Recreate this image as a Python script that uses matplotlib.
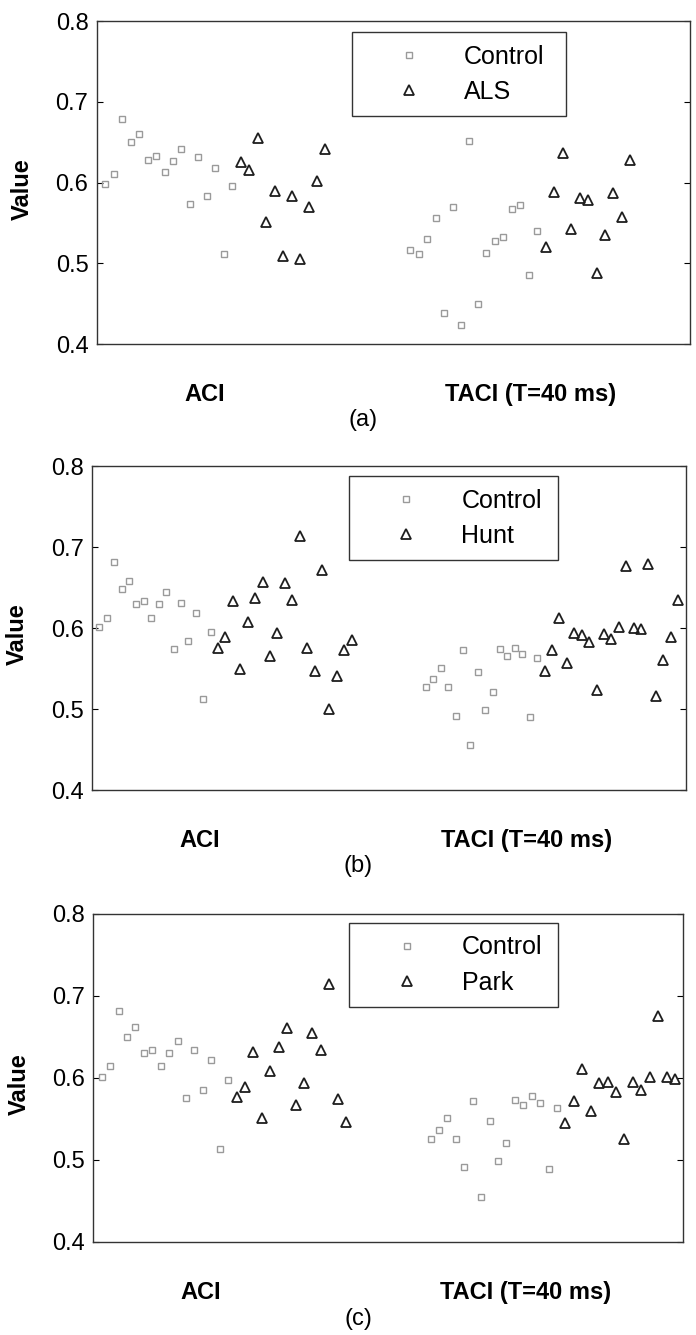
import matplotlib
matplotlib.use('Agg')
import matplotlib.pyplot as plt
import numpy as np

plt.rcParams['font.family'] = ['Liberation Sans', 'DejaVu Sans']

# ACI and TACI (T=40 ms) per subject
# (a) Control vs ALS
aci_ctrl_a = [0.598, 0.610, 0.679, 0.650, 0.660, 0.628, 0.633, 0.613,
              0.627, 0.642, 0.574, 0.632, 0.583, 0.618, 0.511, 0.596]
aci_als = [0.626, 0.615, 0.655, 0.551, 0.590, 0.509, 0.583, 0.505,
           0.570, 0.602, 0.642]
taci_ctrl_a = [0.516, 0.511, 0.530, 0.556, 0.438, 0.570, 0.423, 0.651,
               0.450, 0.513, 0.528, 0.532, 0.567, 0.572, 0.485, 0.540]
taci_als = [0.520, 0.588, 0.636, 0.543, 0.581, 0.579, 0.488, 0.535,
            0.587, 0.557, 0.628]

# (b) Control vs Hunt
aci_ctrl_b = [0.601, 0.613, 0.681, 0.648, 0.658, 0.630, 0.634, 0.613,
              0.630, 0.644, 0.574, 0.631, 0.584, 0.619, 0.512, 0.595]
aci_hunt = [0.575, 0.589, 0.634, 0.549, 0.607, 0.637, 0.657, 0.565,
            0.594, 0.656, 0.635, 0.714, 0.575, 0.547, 0.672, 0.500,
            0.541, 0.573, 0.585]
taci_ctrl_b = [0.527, 0.537, 0.551, 0.527, 0.492, 0.573, 0.456, 0.546,
               0.499, 0.521, 0.574, 0.565, 0.575, 0.568, 0.490, 0.563]
taci_hunt = [0.547, 0.573, 0.612, 0.557, 0.594, 0.591, 0.583, 0.523,
             0.593, 0.586, 0.601, 0.677, 0.600, 0.599, 0.679, 0.516,
             0.560, 0.589, 0.635]

# (c) Control vs Park
aci_ctrl_c = [0.601, 0.614, 0.682, 0.650, 0.662, 0.630, 0.634, 0.615,
              0.631, 0.645, 0.575, 0.634, 0.585, 0.622, 0.513, 0.597]
aci_park = [0.577, 0.589, 0.632, 0.551, 0.609, 0.638, 0.661, 0.567,
            0.594, 0.655, 0.634, 0.715, 0.574, 0.546]
taci_ctrl_c = [0.525, 0.536, 0.551, 0.525, 0.492, 0.572, 0.455, 0.547,
               0.499, 0.521, 0.573, 0.567, 0.578, 0.570, 0.489, 0.563]
taci_park = [0.545, 0.572, 0.611, 0.560, 0.594, 0.595, 0.583, 0.525,
             0.595, 0.585, 0.601, 0.676, 0.601, 0.599]

panels = [
    ('ALS', aci_ctrl_a, aci_als, taci_ctrl_a, taci_als, 70, '(a)'),
    ('Hunt', aci_ctrl_b, aci_hunt, taci_ctrl_b, taci_hunt, 80, '(b)'),
    ('Park', aci_ctrl_c, aci_park, taci_ctrl_c, taci_park, 70, '(c)'),
]
yticks = [0.4, 0.5, 0.6, 0.7, 0.8]
gap = 9  # empty slots between the ACI and TACI groups

# axes boxes in figure fraction [left, bottom, width, height]
boxes = [[0.139, 0.7423, 0.852, 0.2419],
         [0.132, 0.4082, 0.853, 0.2427],
         [0.134, 0.0697, 0.848, 0.2457]]
leg_boxes = [(0.430, 0.694, 0.361, 0.272),
             (0.433, 0.685, 0.352, 0.284),
             (0.434, 0.695, 0.354, 0.278)]

fig = plt.figure(figsize=(6.96, 13.35), dpi=100)
fsize = 17

for j, (name, ac, ap, tc, tp, xmax, tag) in enumerate(panels):
    ax = fig.add_axes(boxes[j])
    n = len(ac) + len(ap)
    x_aci = np.arange(1, n + 1)
    x_taci = x_aci + n + gap

    sq = dict(marker='s', ls='none', ms=5, mfc='none', mec='#9a9a9a', mew=1.0)
    tr = dict(marker='^', ls='none', ms=7.5, mfc='none', mec='#1e1e1e', mew=1.3)

    ax.plot(x_aci[:len(ac)], ac, label='Control', **sq)
    ax.plot(x_aci[len(ac):], ap, label=name, **tr)
    ax.plot(x_taci[:len(tc)], tc, **sq)
    ax.plot(x_taci[len(tc):], tp, **tr)

    ax.set_xlim(0, xmax)
    ax.set_ylim(0.4, 0.8)
    ax.set_xticks([])
    ax.set_yticks(yticks)
    ax.set_yticklabels(['%.1f' % t for t in yticks])
    ax.tick_params(axis='y', direction='in', length=4, width=0.8, right=True,
                   labelsize=fsize, pad=6)
    for s in ax.spines.values():
        s.set_color('#333333')
        s.set_linewidth(1.0)

    ax.text(-0.126, 0.48, 'Value', rotation=90, transform=ax.transAxes,
            ha='center', va='center', fontsize=fsize, fontweight='bold')
    ax.text(0.182, -0.155, 'ACI', transform=ax.transAxes,
            ha='center', va='center', fontsize=fsize, fontweight='bold')
    ax.text(0.732, -0.155, 'TACI (T=40 ms)', transform=ax.transAxes,
            ha='center', va='center', fontsize=fsize, fontweight='bold')
    ax.text(0.449, -0.235, tag, transform=ax.transAxes,
            ha='center', va='center', fontsize=fsize)

    leg = ax.legend(loc='upper left', bbox_to_anchor=leg_boxes[j], mode='expand',
                    borderaxespad=0, fontsize=18, numpoints=1, handlelength=3.6,
                    handletextpad=0.4, borderpad=0.5, labelspacing=0.45,
                    fancybox=False, framealpha=1, edgecolor='#333333')
    leg.get_frame().set_linewidth(1.0)

fig.savefig('out.png', dpi=100)
